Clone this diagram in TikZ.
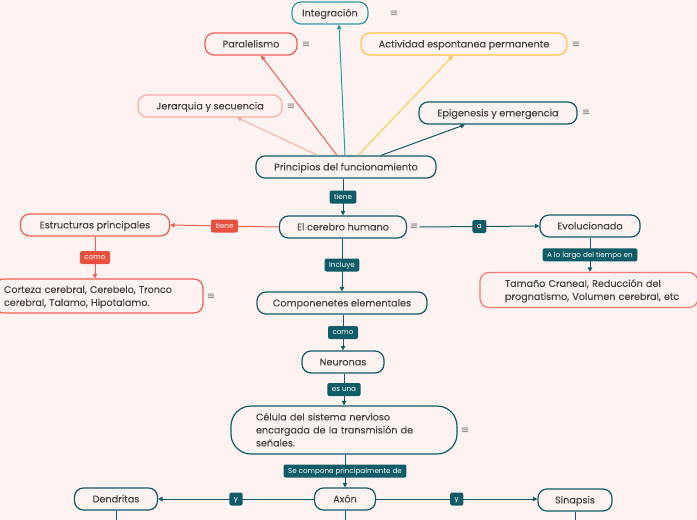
\documentclass[tikz,border=0pt]{standalone}
\usepackage{fontspec}
\setmainfont{Poppins}
\newfontfamily\boxfont{Poppins}[FakeBold=0.25]
\newfontfamily\symfont{DejaVu Sans}
\usetikzlibrary{arrows.meta}
\definecolor{bg}{HTML}{FFF3F1}
\definecolor{dteal}{HTML}{0E5C68}
\definecolor{cteal}{HTML}{2A9AA7}
\definecolor{cred}{HTML}{EC5F55}
\definecolor{credl}{HTML}{E9513F}
\definecolor{cyel}{HTML}{FFC347}
\definecolor{cpink}{HTML}{F8ADA6}
\definecolor{ctam}{HTML}{F47A72}
\definecolor{ctxt}{HTML}{454545}
\definecolor{ceq}{HTML}{7A7A7A}
\begin{document}
\begin{tikzpicture}[x=1pt,y=-1pt,
 box/.style={draw=dteal,line width=1.2pt,rounded corners=9pt,minimum height=22pt,inner sep=0pt,text=ctxt,text height=8pt,text depth=1.2pt,font=\boxfont\fontsize{9.7}{12}\selectfont},
 mbox/.style={box,align=left,text height=8pt,font=\boxfont\fontsize{9.6}{13}\selectfont},
 lbl/.style={fill=dteal,rounded corners=2pt,text=white,font=\fontsize{7.2}{8}\selectfont,inner xsep=4.5pt,inner ysep=0pt,minimum height=13pt,text height=5.6pt,text depth=1pt},
 conn/.style={draw=dteal,line width=1pt,-{Triangle[length=4.5pt,width=4.5pt]}},
 eq/.style={text=ceq,font=\symfont\fontsize{10}{10}\selectfont,inner sep=1pt}]
\useasboundingbox (0,0) rectangle (697,520);
\fill[bg] (0,0) rectangle (697,520);

% top nodes
\node[box,draw=cteal,minimum width=76pt] (int) at (330,13) {Integración};
\node[eq] (inteq) at (394,14) {≡};
\node[box,draw=cred,minimum width=92pt] (par) at (251,44) {Paralelismo};
\node[eq] (pareq) at (306,45) {≡};
\node[box,draw=cyel,minimum width=206pt] (act) at (464,44) {Actividad espontanea permanente};
\node[eq] (acteq) at (576,45) {≡};
\node[box,draw=cpink,minimum width=144pt] (jer) at (210,106) {Jerarquia y secuencia};
\node[eq] (jereq) at (291,107) {≡};
\node[box,minimum width=158pt] (epi) at (498,113) {Epigenesis y emergencia};
\node[eq] (epieq) at (586,113) {≡};
\node[box,minimum width=180pt] (pf) at (346,167) {Principios del funcionamiento};

\draw[conn,draw=cteal] ([xshift=-1pt]pf.north) -- ([xshift=9pt]int.south);
\draw[conn,draw=cred] ([xshift=-9pt]pf.north) -- ([xshift=10pt]par.south);
\draw[conn,draw=cpink] ([xshift=-28pt]pf.north) -- ([xshift=27pt]jer.south);
\draw[conn,draw=cyel] ([xshift=12pt]pf.north) -- ([xshift=-11pt]act.south);
\draw[conn] ([xshift=35pt]pf.north) -- ([xshift=-33pt]epi.south);

% cerebro
\node[box,minimum width=127pt] (cer) at (343,227) {El cerebro humano};
\node[eq] (cereq) at (414,227) {≡};
\draw[conn] (pf.south -| cer.north) -- node[lbl]{tiene} (cer.north);

\node[box,draw=cred,minimum width=149pt] (est) at (95,225) {Estructuras principales};
\draw[conn,draw=cred] (cer.west) -- node[lbl,fill=credl]{tiene} (est.east);
\node[mbox,draw=cred,minimum width=208pt,minimum height=34pt,inner xsep=9pt,text width=190pt,text depth=14.2pt] (cor) at (99,296) {\mbox{Corteza cerebral, Cerebelo, Tronco}\\\mbox{cerebral, Talamo, Hipotalamo.}};
\node[eq] (coreq) at (211,297) {≡};
\draw[conn,draw=cred] (est.south) -- node[lbl,fill=credl]{como} (est.south |- cor.north);

\node[box,minimum width=100pt] (evo) at (590,226) {Evolucionado};
\draw[conn] (cereq.east) -- node[lbl]{a} (evo.west);
\node[mbox,draw=ctam,minimum width=218pt,minimum height=35pt,inner xsep=25pt,text width=168pt,text depth=14.2pt] (tam) at (589,290) {\mbox{Tamaño Craneal, Reducción del}\\\mbox{prognatismo, Volumen cerebral, etc}};
\draw[conn] (evo.south) -- node[lbl]{A lo largo del tiempo en} (evo.south |- tam.north);

% chain
\node[box,minimum width=170pt] (comp) at (342,303) {Componenetes elementales};
\draw[conn] (cer.south -| comp.north) -- node[lbl]{Incluye} (comp.north);
\node[box,minimum width=82pt] (neu) at (343,362) {Neuronas};
\draw[conn] (comp.south -| neu.north) -- node[lbl]{como} (neu.north);
\node[mbox,minimum width=226pt,minimum height=48pt,rounded corners=20pt,inner xsep=25pt,text width=176pt,text depth=27.2pt] (cel) at (344,430) {\mbox{Célula del sistema nervioso}\\\mbox{encargada de la transmisión de}\\\mbox{señales.}};
\node[eq] (celeq) at (465,431) {≡};
\draw[conn] (neu.south -| cel.north) -- node[lbl]{es una} (cel.north);

\node[box,minimum width=61pt] (axon) at (345,499) {Axón};
\draw[conn] (cel.south -| axon.north) -- node[lbl]{Se compone principalmente de} (axon.north);
\node[box,minimum width=83pt] (den) at (116,499) {Dendritas};
\draw[conn] (axon.west) -- node[lbl]{y} (den.east);
\node[box,minimum width=74pt] (sin) at (575,500) {Sinapsis};
\draw[conn] (axon.east) -- node[lbl]{y} (axon.east -| sin.west);

\coordinate (denb) at (116,521);
\coordinate (axb) at (345,521);
\coordinate (sinb) at (575,521);
\draw[dteal,line width=1pt] (den.south) -- (denb);
\draw[dteal,line width=1pt] (axon.south) -- (axb);
\draw[dteal,line width=1pt] (sin.south) -- (sinb);
\end{tikzpicture}
\end{document}
